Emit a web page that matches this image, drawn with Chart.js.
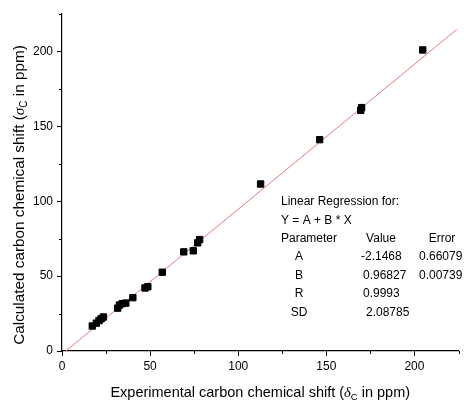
<!DOCTYPE html>
<html>
<head>
<meta charset="utf-8">
<script src="https://cdn.jsdelivr.net/npm/chart.js"></script>
<style>
html,body{margin:0;padding:0;background:#fff;}
#wrap{width:464px;height:400px;position:relative;}
</style>
</head>
<body>
<div id="wrap"><canvas id="c" width="464" height="400"></canvas></div>
<script>
// Data
const expShift = [17.2, 19.5, 21.0, 22.2, 23.5, 31.6, 32.6, 34.2, 36.2, 40.2, 47.1, 48.7, 56.9, 69.1, 74.5, 77.0, 78.1, 112.7, 146.2, 169.5, 170.0, 204.7];
const calcShift = [16.7, 18.6, 20.3, 21.5, 22.7, 28.6, 30.7, 31.6, 32.0, 35.6, 42.1, 42.9, 52.6, 66.2, 66.9, 72.2, 74.4, 111.5, 141.1, 160.7, 162.5, 201.0];
const fitX = [2.2, 224];
const fitY = [0, 214.7];
const majorTicks = [0, 50, 100, 150, 200];
const minorTicks = [25, 75, 125, 175, 225];
const regLines = ["Linear Regression for:", "Y = A + B * X"];
const paramNames = ["A", "B", "R", "SD"];
const paramValues = ["-2.1468", "0.96827", "0.9993", "2.08785"];
const paramErrors = ["0.66079", "0.00739", "", ""];

const FONT = "'Liberation Sans', Arial, sans-serif";
const SERIF = "'Liberation Serif', 'Times New Roman', serif";

function drawRuns(ctx, runs, cx, by) {
  let total = 0;
  runs.forEach(r => { ctx.font = r.f; r.w = ctx.measureText(r.t).width; total += r.w; });
  let x = cx - total / 2;
  runs.forEach(r => { ctx.font = r.f; ctx.fillText(r.t, x, by + (r.dy || 0)); x += r.w; });
}

const extras = {
  id: 'extras',
  afterDraw(chart) {
    const ctx = chart.ctx;
    const xs = chart.scales.x, ys = chart.scales.y;
    ctx.save();
    // minor ticks
    ctx.strokeStyle = '#000';
    ctx.lineWidth = 1;
    ctx.beginPath();
    minorTicks.forEach(v => {
      const px = Math.round(xs.getPixelForValue(v)) + 0.5;
      ctx.moveTo(px, xs.top); ctx.lineTo(px, xs.top + 3);
      const py = Math.round(ys.getPixelForValue(v)) + 0.5;
      ctx.moveTo(ys.right, py); ctx.lineTo(ys.right - 3, py);
    });
    ctx.stroke();
    // axis titles
    ctx.fillStyle = '#000';
    ctx.textBaseline = 'alphabetic';
    ctx.textAlign = 'left';
    const ca = chart.chartArea;
    drawRuns(ctx, [
      {t: 'Experimental carbon chemical shift (', f: '14.5px ' + FONT},
      {t: 'δ', f: 'italic 14.5px ' + SERIF},
      {t: 'C', f: '9.5px ' + FONT, dy: 3},
      {t: ' in ppm)', f: '14.5px ' + FONT}
    ], (ca.left + ca.right) / 2, 397);
    ctx.save();
    ctx.translate(24, 195);
    ctx.rotate(-Math.PI / 2);
    drawRuns(ctx, [
      {t: 'Calculated carbon chemical shift (', f: '15.3px ' + FONT},
      {t: 'σ', f: 'italic 15.3px ' + SERIF},
      {t: 'C', f: '10px ' + FONT, dy: 3},
      {t: ' in ppm)', f: '15.3px ' + FONT}
    ], 0, 0);
    ctx.restore();
    // regression box
    ctx.font = '12px ' + FONT;
    ctx.textAlign = 'left';
    ctx.fillText(regLines[0], 281, 205.3);
    ctx.fillText(regLines[1], 281, 223.6);
    ctx.fillText('Parameter', 281, 242);
    ctx.textAlign = 'center';
    ctx.fillText('Value', 381, 242);
    ctx.fillText('Error', 442, 242);
    const valLeft = [361, 363, 363, 366];
    paramNames.forEach((n, i) => {
      const by = 260.3 + i * 18.4;
      ctx.textAlign = 'center';
      ctx.fillText(n, 299, by);
      ctx.textAlign = 'left';
      ctx.fillText(paramValues[i], valLeft[i], by);
      if (paramErrors[i]) ctx.fillText(paramErrors[i], 419, by);
    });
    ctx.restore();
  }
};

const pts = expShift.map((x, i) => ({x: x, y: calcShift[i]}));
const fit = fitX.map((x, i) => ({x: x, y: fitY[i]}));

new Chart(document.getElementById('c'), {
  type: 'scatter',
  data: {
    datasets: [
      {
        type: 'line', data: fit, borderColor: 'rgb(228,125,125)', borderWidth: 1,
        pointRadius: 0, fill: false, order: 2
      },
      {
        data: pts, pointStyle: 'rect', pointRadius: 4.5, pointHoverRadius: 4.5,
        backgroundColor: '#000', borderColor: '#000', borderWidth: 1, order: 1
      }
    ]
  },
  options: {
    responsive: false,
    animation: false,
    events: [],
    layout: {padding: {left: 0, right: 2, top: 14, bottom: 0}},
    plugins: {legend: {display: false}, tooltip: {enabled: false}, title: {display: false}},
    scales: {
      x: {
        type: 'linear', min: 0, max: 225,
        afterBuildTicks: s => { s.ticks = majorTicks.map(v => ({value: v})); },
        afterFit: s => { s.height = 49; },
        ticks: {font: {family: FONT, size: 12}, color: '#000', padding: 3, maxRotation: 0},
        grid: {drawOnChartArea: false, drawTicks: true, tickLength: 5, tickColor: '#000', tickWidth: 1},
        border: {display: true, color: '#000', width: 1.2}
      },
      y: {
        type: 'linear', min: 0, max: 225,
        afterBuildTicks: s => { s.ticks = majorTicks.map(v => ({value: v})); },
        afterFit: s => { s.width = 62; },
        ticks: {font: {family: FONT, size: 12}, color: '#000', padding: 4},
        grid: {drawOnChartArea: false, drawTicks: true, tickLength: 5, tickColor: '#000', tickWidth: 1},
        border: {display: true, color: '#000', width: 1.2}
      }
    }
  },
  plugins: [extras]
});
</script>
</body>
</html>
